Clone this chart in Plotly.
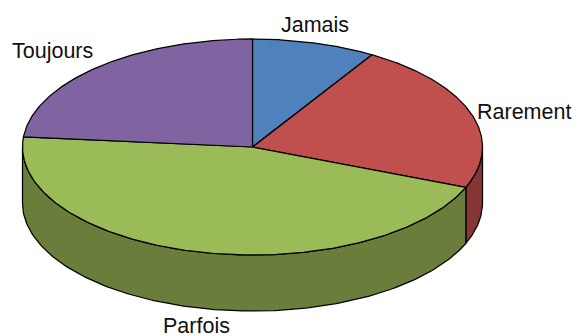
import numpy as np
import plotly.graph_objects as go

categories = ["Jamais", "Rarement", "Parfois", "Toujours"]
values = [8.7, 22.4, 45.4, 23.5]
top_colors = ["#4F81BD", "#C0504D", "#9BBB59", "#8064A2"]
wall_colors = ["#3A5F8C", "#843736", "#6A7D3B", "#5E4A78"]

W, H = 574, 336
CX, CY, RX, RY, DEPTH = 252.5, 147.0, 230.0, 108.0, 56.0
LABEL_POS = {"Jamais": (315, 25), "Rarement": (524, 112), "Parfois": (196, 326), "Toujours": (52, 51)}


def px(a):
    return CX + RX * np.sin(a)


def py(a):
    return CY - RY * np.cos(a)


fractions = np.array(values) / sum(values)
edges = np.concatenate([[0], np.cumsum(fractions)]) * 2 * np.pi

fig = go.Figure()


def poly(x, y, color):
    fig.add_trace(go.Scatter(
        x=list(x), y=list(y), mode="lines", fill="toself", fillcolor=color,
        line=dict(color="#000000", width=1.25), hoverinfo="skip", showlegend=False))


# Outer walls of the front half (angles between 90 and 270 degrees)
for i in range(len(values)):
    a0, a1 = max(edges[i], np.pi / 2), min(edges[i + 1], 3 * np.pi / 2)
    if a1 <= a0:
        continue
    t = np.linspace(a0, a1, 160)
    poly(np.concatenate([px(t), px(t[::-1]), [px(t[0])]]),
         np.concatenate([py(t), py(t[::-1]) + DEPTH, [py(t[0])]]),
         wall_colors[i])

# Top faces
for i in range(len(values)):
    t = np.linspace(edges[i], edges[i + 1], 220)
    poly(np.concatenate([[CX], px(t), [CX]]),
         np.concatenate([[CY], py(t), [CY]]),
         top_colors[i])

for name in categories:
    lx, ly = LABEL_POS[name]
    fig.add_annotation(x=lx, y=ly, text=name, showarrow=False, xanchor="center", yanchor="middle",
                       font=dict(family="Liberation Sans, Arial, sans-serif", size=21.5, color="#111111"))

fig.update_layout(
    width=W, height=H, margin=dict(l=0, r=0, t=0, b=0),
    paper_bgcolor="white", plot_bgcolor="white", showlegend=False,
    xaxis=dict(range=[0, W], visible=False, fixedrange=True),
    yaxis=dict(range=[H, 0], visible=False, fixedrange=True),
)
fig.write_html("out.html", config={"displayModeBar": False},
               post_script="document.body.style.margin='0';document.body.style.overflow='hidden';")
